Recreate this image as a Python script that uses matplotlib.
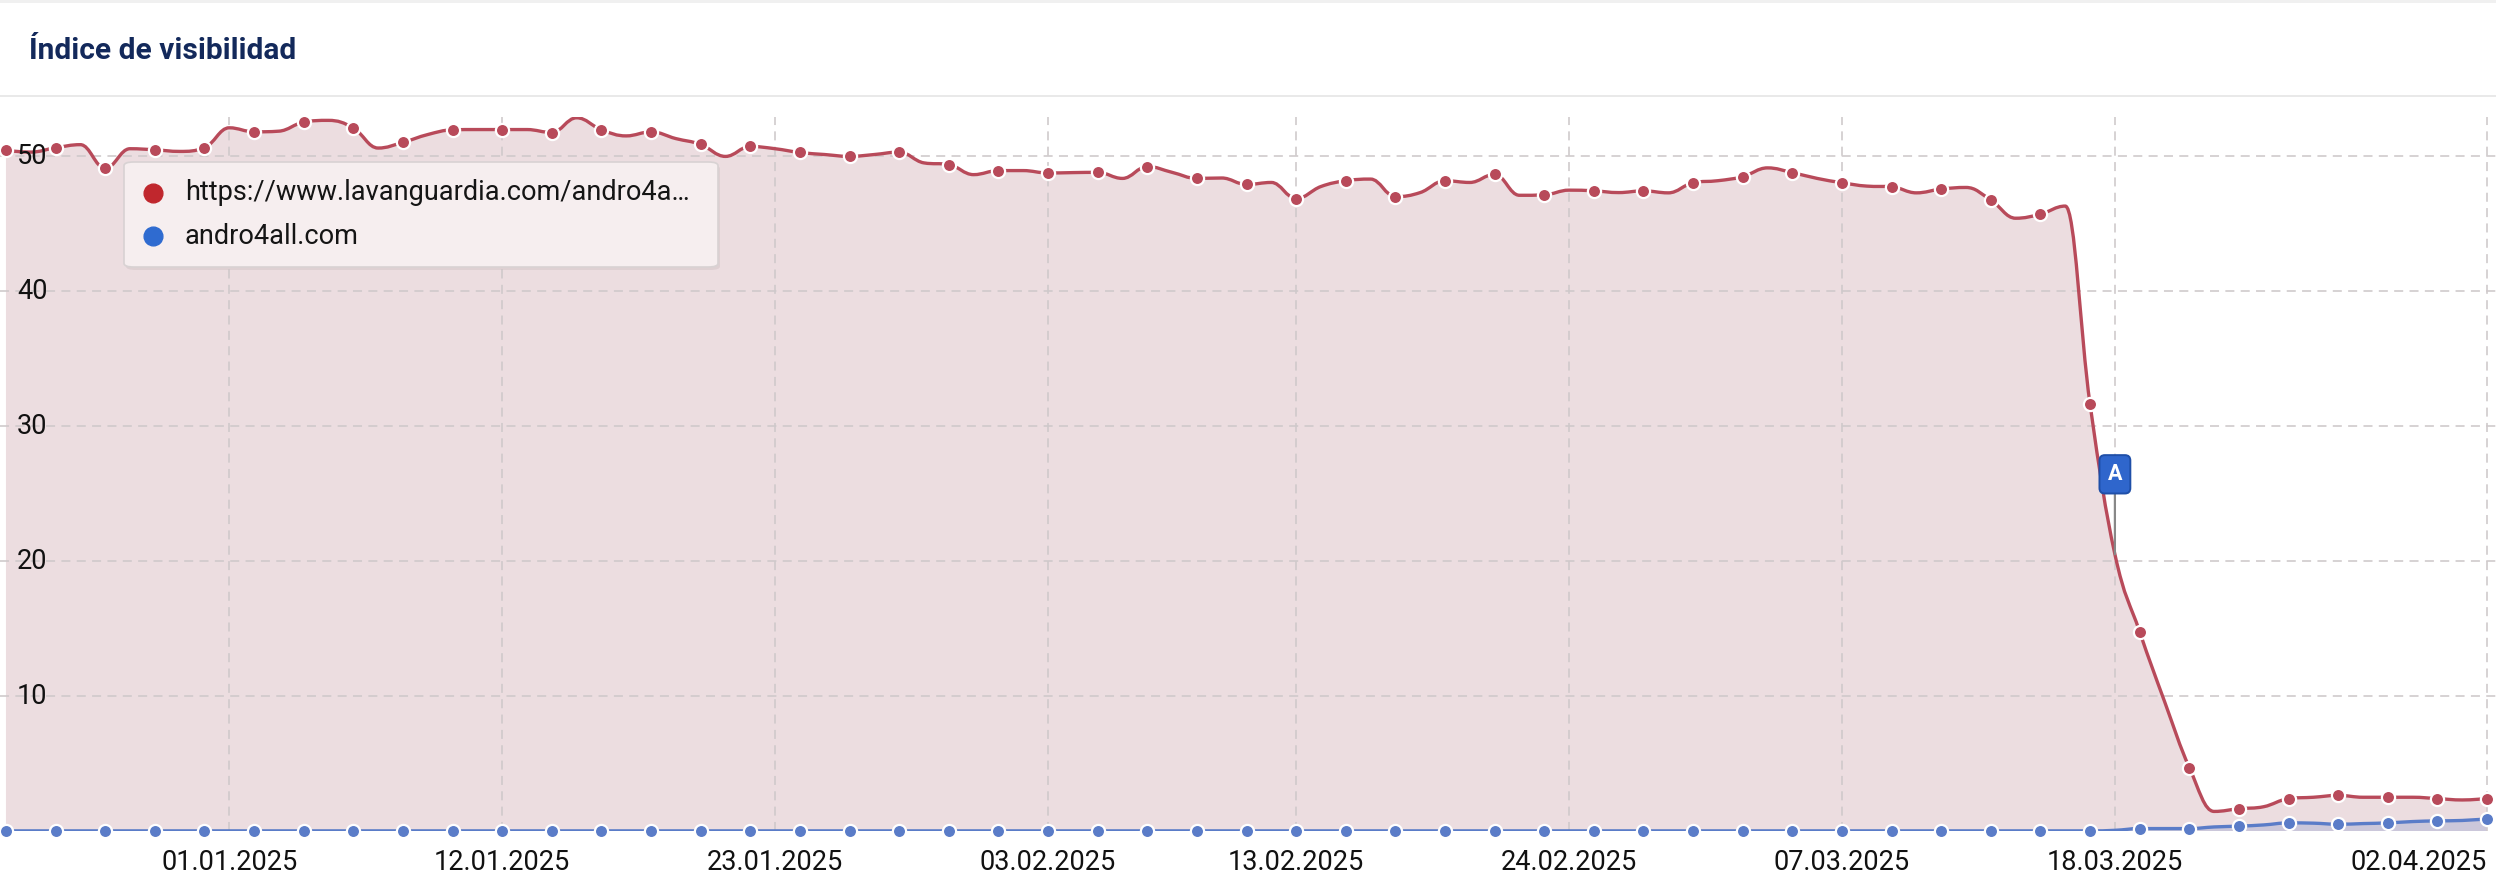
import numpy as np
import pandas as pd
import matplotlib
matplotlib.use("Agg")
import matplotlib.pyplot as plt
import matplotlib.dates as mdates
from matplotlib.path import Path
from matplotlib.patches import PathPatch, FancyBboxPatch, Rectangle

plt.rcParams['font.family'] = ['Roboto', 'DejaVu Sans']

# daily values, 23.12.2024 .. 02.04.2025
start_day = '2024-12-23'
end_day = '2025-04-02'

lavanguardia = [
    50.42, 50.30, 50.62, 50.85, 49.10, 50.55, 50.47, 50.35, 50.62,            # dec
    52.10, 51.80, 51.85, 52.52, 52.65, 52.09, 50.60, 51.02, 51.60, 51.95,     # jan 1-10
    51.97, 51.97, 51.97, 51.75, 52.84, 51.95, 51.50, 51.80, 51.30, 50.87,     # jan 11-20
    49.98, 50.72, 50.55, 50.27, 50.12, 49.98, 50.12, 50.30, 49.50, 49.38,     # jan 21-30
    48.63,                                                                    # jan 31
    48.93, 48.93, 48.75, 48.78, 48.80, 48.35, 49.23, 48.80, 48.35, 48.38,     # feb 1-10
    47.90, 48.05, 46.86, 47.75, 48.18, 48.30, 47.00, 47.30, 48.18, 48.05,     # feb 11-20
    48.65, 47.10, 47.13, 47.48, 47.43, 47.30, 47.43, 47.28,                   # feb 21-28
    48.03, 48.18, 48.48, 49.13, 48.78, 48.35, 48.03, 47.78, 47.73, 47.28,     # mar 1-10
    47.56, 47.68, 46.75, 45.40, 45.70, 46.30, 31.60, 20.50, 14.75, 9.60,      # mar 11-20
    4.70, 1.45, 1.65, 1.80, 2.40, 2.50, 2.64, 2.50, 2.50, 2.50, 2.40,         # mar 21-31
    2.30, 2.40,                                                               # apr
]

andro4all = [
    0.01, 0.01, 0.01, 0.01, 0.01, 0.01, 0.01, 0.01, 0.01,
    0.01, 0.01, 0.01, 0.01, 0.01, 0.01, 0.01, 0.01, 0.01, 0.01,
    0.01, 0.01, 0.01, 0.01, 0.01, 0.01, 0.01, 0.01, 0.01, 0.01,
    0.01, 0.01, 0.01, 0.01, 0.01, 0.01, 0.01, 0.01, 0.01, 0.01,
    0.01,
    0.01, 0.01, 0.01, 0.01, 0.01, 0.01, 0.01, 0.01, 0.01, 0.01,
    0.01, 0.01, 0.01, 0.01, 0.01, 0.01, 0.01, 0.01, 0.01, 0.01,
    0.01, 0.01, 0.01, 0.01, 0.01, 0.01, 0.01, 0.01,
    0.01, 0.01, 0.01, 0.01, 0.01, 0.01, 0.01, 0.01, 0.01, 0.01,
    0.01, 0.01, 0.01, 0.01, 0.01, 0.01, 0.01, 0.05, 0.18, 0.18,
    0.18, 0.30, 0.36, 0.45, 0.60, 0.58, 0.50, 0.55, 0.60, 0.70, 0.75,
    0.78, 0.90,
]

series_names = ['https://www.lavanguardia.com/andro4a…', 'andro4all.com']
tick_days = ['2025-01-01', '2025-01-12', '2025-01-23', '2025-02-03', '2025-02-13',
             '2025-02-24', '2025-03-07', '2025-03-18', '2025-04-02']
y_ticks = [10, 20, 30, 40, 50]
event_day = '2025-03-18'
event_label = 'A'

RED = '#b84a5a'
RED_FILL = '#ecdde0'
BLUE = '#5a7cc8'
GRID = '#cfc9cb'


def spline_path(xs, ys, smoothing=1.5):
    # bezier control points, same idea as a highcharts "spline" series
    denom = smoothing + 1
    n = len(xs)
    lc = [(xs[i], ys[i]) for i in range(n)]
    rc = [(xs[i], ys[i]) for i in range(n)]
    for i in range(1, n - 1):
        px, py = xs[i], ys[i]
        lx, ly = xs[i - 1], ys[i - 1]
        nx, ny = xs[i + 1], ys[i + 1]
        lcx = (smoothing * px + lx) / denom
        lcy = (smoothing * py + ly) / denom
        rcx = (smoothing * px + nx) / denom
        rcy = (smoothing * py + ny) / denom
        corr = (rcy - lcy) * (rcx - px) / (rcx - lcx) + py - rcy
        lcy += corr
        rcy += corr
        if lcy > ly and lcy > py:
            lcy = max(ly, py)
            rcy = 2 * py - lcy
        elif lcy < ly and lcy < py:
            lcy = min(ly, py)
            rcy = 2 * py - lcy
        if rcy > ny and rcy > py:
            rcy = max(ny, py)
            lcy = 2 * py - rcy
        elif rcy < ny and rcy < py:
            rcy = min(ny, py)
            lcy = 2 * py - rcy
        lc[i] = (lcx, lcy)
        rc[i] = (rcx, rcy)
    verts = [(xs[0], ys[0])]
    codes = [Path.MOVETO]
    for i in range(1, n):
        verts += [rc[i - 1], lc[i], (xs[i], ys[i])]
        codes += [Path.CURVE4] * 3
    return verts, codes


def area_patches(ax, xs, ys, line_color, fill_color, fill_alpha, z):
    verts, codes = spline_path(xs, ys)
    fverts = verts + [(xs[-1], 0), (xs[0], 0), (xs[0], ys[0])]
    fcodes = codes + [Path.LINETO, Path.LINETO, Path.CLOSEPOLY]
    ax.add_patch(PathPatch(Path(fverts, fcodes), facecolor=fill_color, alpha=fill_alpha,
                           edgecolor='none', zorder=z))
    ax.add_patch(PathPatch(Path(verts, codes), facecolor='none', edgecolor=line_color,
                           lw=2.4, zorder=z + 2, capstyle='round', joinstyle='round'))


days = pd.date_range(start_day, end_day, freq='D')
x = mdates.date2num(days)
red = np.array(lavanguardia)
blue = np.array(andro4all)

W, H = 2496, 894
fig = plt.figure(figsize=(W / 100, H / 100), dpi=100)
fig.patch.set_facecolor('white')

# card header
fig.patches.append(Rectangle((0, 1 - 3 / H), 1, 3 / H, transform=fig.transFigure,
                             facecolor='#f0f0f0', edgecolor='none'))
fig.patches.append(Rectangle((0, 1 - 97 / H), 1, 2 / H, transform=fig.transFigure,
                             facecolor='#e9e9e9', edgecolor='none'))
fig.text(29 / W, 1 - 51 / H, 'Índice de visibilidad', fontsize=21.5, fontweight='bold',
         color='#13295b', va='center', ha='left')

ax = fig.add_axes([0, 1 - 831 / H, 1, (831 - 117) / H])
ax.set_xlim(x[0] - 0.24, x[-1] + 0.36)
ax.set_ylim(0, 52.9)
for s in ax.spines.values():
    s.set_visible(False)

area_patches(ax, x, red, RED, RED_FILL, 1.0, 1)
area_patches(ax, x, blue, BLUE, BLUE, 0.22, 1.2)

ax.plot(x[::2], red[::2], 'o', ms=9.5, mfc=RED, mec='white', mew=1.6, clip_on=False, zorder=5)
ax.plot(x[::2], blue[::2], 'o', ms=9.5, mfc=BLUE, mec='white', mew=1.6, clip_on=False, zorder=5)

ticks = mdates.date2num(pd.to_datetime(tick_days))
ax.set_xticks(ticks)
ax.set_xticklabels([pd.Timestamp(d).strftime('%d.%m.%Y') for d in tick_days])
ax.tick_params(axis='x', length=0, pad=13, labelsize=19.5, labelcolor='#111111')
ax.get_xticklabels()[-1].set_horizontalalignment('right')
ax.set_yticks(y_ticks)
ax.tick_params(axis='y', length=0, labelleft=False)
ax.set_axisbelow('line')
ax.grid(True, color=GRID, lw=1.3, ls=(0, (5, 3.5)), alpha=0.9)

for v in y_ticks:
    ax.text(17 / W, v, str(v), transform=ax.get_yaxis_transform(), ha='left', va='center',
            fontsize=19.5, color='#111111', zorder=6)

# event flag
ex = mdates.date2num(pd.Timestamp(event_day))
ey = red[list(days).index(pd.Timestamp(event_day))]
ax.annotate(event_label, xy=(ex, ey), xytext=(0, 80), textcoords='offset pixels',
            ha='center', va='center', fontsize=15.5, fontweight='bold', color='white',
            bbox=dict(boxstyle='round,pad=0.38,rounding_size=0.25', fc='#2f66cc', ec='#1f4fa8', lw=1.4),
            arrowprops=dict(arrowstyle='-', color='#888888', lw=1.6, shrinkA=0, shrinkB=0),
            zorder=7)

# legend box (pixel coordinates of the image)
bx0, by0, bx1, by1 = 124, 162, 718, 267
fig.patches.append(FancyBboxPatch((bx0 / W + 0.0008, 1 - (by1 + 3) / H), (bx1 - bx0) / W, (by1 - by0) / H,
                                  boxstyle='round,pad=0,rounding_size=0.004', transform=fig.transFigure,
                                  facecolor='#000000', alpha=0.06, edgecolor='none', zorder=8))
fig.patches.append(FancyBboxPatch((bx0 / W, 1 - by1 / H), (bx1 - bx0) / W, (by1 - by0) / H,
                                  boxstyle='round,pad=0,rounding_size=0.004', transform=fig.transFigure,
                                  facecolor='#f6eeef', edgecolor='#d8d2d3', lw=1.2, zorder=9))
legend_colors = ['#c0272d', '#2f6bd0']
for i, (name, c) in enumerate(zip(series_names, legend_colors)):
    yy = 1 - (193 + 43 * i) / H
    fig.add_artist(plt.Line2D([153 / W], [yy], marker='o', ms=13.5, color=c, mec=c,
                              transform=fig.transFigure, zorder=10))
    fig.text(185 / W, yy, name, fontsize=19.5, color='#151515', va='center', ha='left', zorder=10)

fig.savefig('out.png', dpi=100)
